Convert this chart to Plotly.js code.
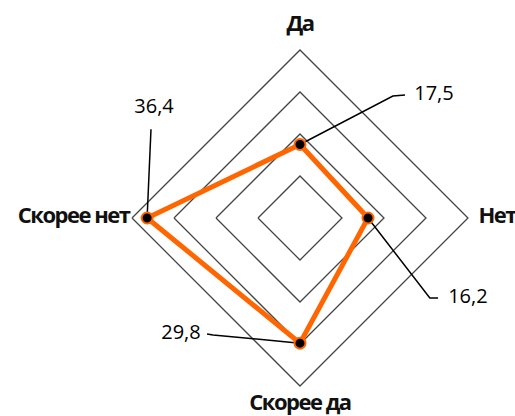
<!DOCTYPE html>
<html>
<head>
<meta charset="utf-8">
<script src="https://cdn.plot.ly/plotly-3.0.1.min.js"></script>
<style>
html,body{margin:0;padding:0;background:#fff;}
#chart{width:515px;height:416px;}
</style>
</head>
<body>
<div id="chart"></div>
<script>
// ---- data ----
const categories = ['Да', 'Нет', 'Скорее да', 'Скорее нет'];
const values = [17.5, 16.2, 29.8, 36.4];
const radialTicks = [10, 20, 30, 40];

// ---- label / leader geometry (polar r, clockwise degrees from top) ----
const categoryAngle = [0, 90, 180, 270];
const leaderElbowR = [36.5, 36.3, 34.7, 41.3];
const leaderElbowT = [37.3, 121.6, 216.6, 300.8];
const leaderEndR = [38.5, 38.0, 35.4, 41.3];
const leaderEndT = [40.5, 120.1, 218.7, 300.8];
const valueLabelR = [43.3, 44.3, 39.6, 43.5];
const valueLabelT = [47.45, 115.5, 225.7, 307.0];
const catLabelR = [45.8, 42.5, 44.5, 40.6];
const catLabelPos = ['middle center', 'middle right', 'middle center', 'middle left'];

const fmt = v => v.toFixed(1).replace('.', ',');

const traces = [];
// main series line
traces.push({
  type: 'scatterpolar',
  subplot: 'polar',
  r: values.concat([values[0]]),
  theta: categories.concat([categories[0]]),
  mode: 'lines',
  line: {color: '#ff6600', width: 5},
  cliponaxis: false,
  hoverinfo: 'none'
});
// leader lines
values.forEach((v, i) => {
  traces.push({
    type: 'scatterpolar',
    subplot: 'polar2',
    r: [v, leaderElbowR[i], leaderEndR[i]],
    theta: [categoryAngle[i], leaderElbowT[i], leaderEndT[i]],
    mode: 'lines',
    line: {color: '#000', width: 1.5},
    cliponaxis: false,
    hoverinfo: 'none'
  });
});
// value labels
traces.push({
  type: 'scatterpolar',
  subplot: 'polar2',
  r: valueLabelR,
  theta: valueLabelT,
  mode: 'text',
  text: values.map(fmt),
  textposition: 'middle center',
  textfont: {family: 'Open Sans', size: 20, color: '#000'},
  cliponaxis: false,
  hoverinfo: 'none'
});
// category labels
traces.push({
  type: 'scatterpolar',
  subplot: 'polar2',
  r: catLabelR,
  theta: categoryAngle,
  mode: 'text',
  text: categories,
  textposition: catLabelPos,
  textfont: {family: 'Open Sans', size: 22, color: '#111', weight: 'bold'},
  cliponaxis: false,
  hoverinfo: 'none'
});
// dots on top
traces.push({
  type: 'scatterpolar',
  subplot: 'polar2',
  r: values,
  theta: categoryAngle,
  mode: 'markers',
  marker: {color: '#000', size: 11, line: {color: '#ff6600', width: 2}},
  cliponaxis: false,
  hoverinfo: 'none'
});

const dom1 = {x: [0.2563, 0.9087], y: [0.0721, 0.8798]};      // radius 168px, range 40
const dom2 = {x: [0.1992, 0.9658], y: [0.0014, 0.9505]};      // radius 197.4px, range 47
const layout = {
  width: 515, height: 416,
  margin: {l: 0, r: 0, t: 0, b: 0},
  paper_bgcolor: '#fff',
  showlegend: false,
  polar: {
    domain: dom1,
    bgcolor: 'rgba(0,0,0,0)',
    gridshape: 'linear',
    radialaxis: {range: [0, 40], tickvals: radialTicks, showticklabels: false, ticks: '', showline: false,
                 gridcolor: '#444', gridwidth: 1.3},
    angularaxis: {type: 'category', categoryarray: categories, direction: 'clockwise', rotation: 90,
                  showgrid: false, linecolor: '#444', linewidth: 1.3, ticks: '', showticklabels: false}
  },
  polar2: {
    domain: dom2,
    bgcolor: 'rgba(0,0,0,0)',
    radialaxis: {range: [0, 47], visible: false},
    angularaxis: {type: 'linear', direction: 'clockwise', rotation: 90, visible: false, showgrid: false, showline: false}
  }
};
Plotly.newPlot('chart', traces, layout, {staticPlot: true}).then(gd => {
  gd.querySelectorAll('.textpoint text').forEach(t => {
    if (categories.indexOf(t.textContent) >= 0) t.style.letterSpacing = '-1.5px';
  });
});
</script>
</body>
</html>
